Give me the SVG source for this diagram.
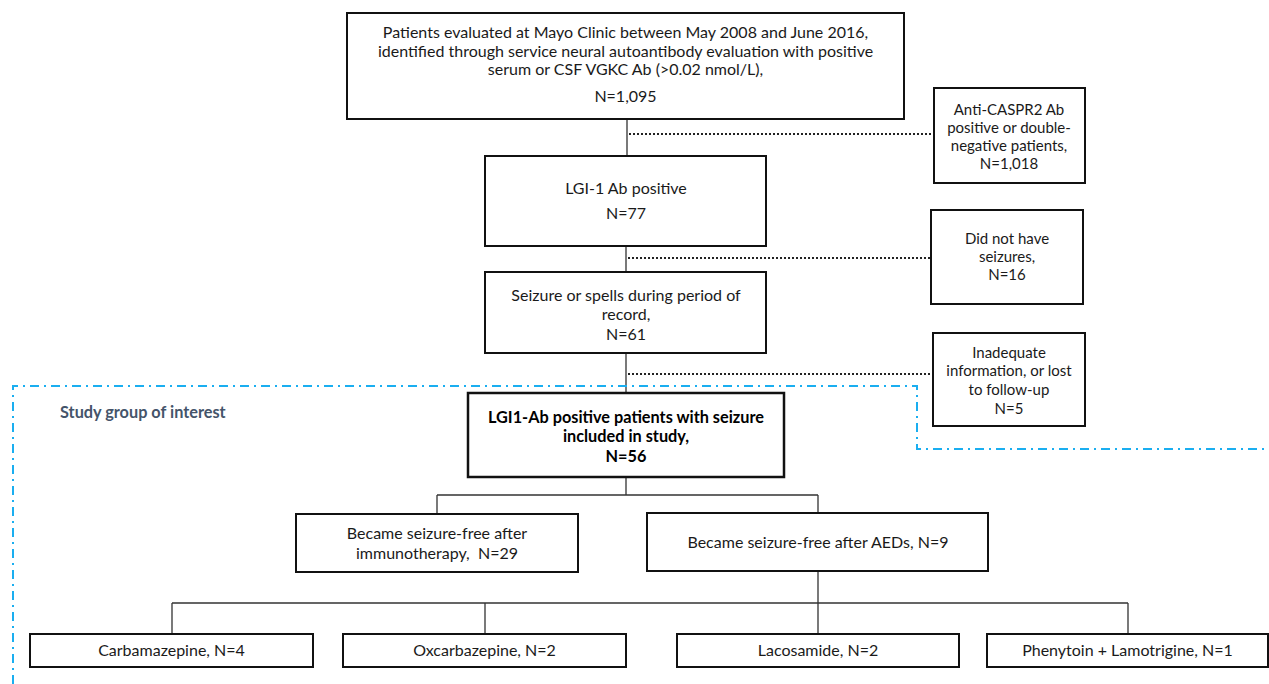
<svg xmlns="http://www.w3.org/2000/svg" width="1269" height="684" viewBox="0 0 1269 684">
<style>
.box{fill:#fff;stroke:#111;stroke-width:2}
.boxb{fill:#fff;stroke:#111;stroke-width:2.5}
.t{font-family:Lato,"Open Sans",sans-serif;font-size:16px;fill:#1a1a1a;text-anchor:middle}
.ts{font-family:Lato,"Open Sans",sans-serif;font-size:15px;fill:#1a1a1a;text-anchor:middle}
.tb{font-family:Lato,"Open Sans",sans-serif;font-size:16.3px;font-weight:bold;fill:#000;text-anchor:middle}
.ln{fill:none;stroke:#333;stroke-width:1.3}
.dot{fill:none;stroke:#222;stroke-width:2;stroke-dasharray:2 2}
.grp{fill:none;stroke:#1aaef0;stroke-width:2;stroke-dasharray:9 5 2 5}
</style>
<rect width="1269" height="684" fill="#fff"/>
<g id="connectors">
<path class="ln" d="M627,119V156M626,246V272M626,353V393M626,477V495M437,495H818M437,495V513M818,495V513M818,571V603M172,603H1128M172,603V634M485,603V634M818,603V634M1128,603V634"/>
<path class="dot" d="M629,134H934M628,258H931M628,374H933"/>
</g>
<g id="study-group">
<path class="grp" d="M13,684V386H917V449H1269"/>
<text x="60" y="418" style="font-family:Lato,'Open Sans',sans-serif;font-size:16.3px;font-weight:bold;fill:#44546a">Study group of interest</text>
</g>
<g id="n-start">
<rect class="box" x="347" y="13" width="557" height="106"/>
<text class="t" x="625.5" y="38">Patients evaluated at Mayo Clinic between May 2008 and June 2016,</text>
<text class="t" x="625.5" y="57">identified through service neural autoantibody evaluation with positive</text>
<text class="t" x="625.5" y="75">serum or CSF VGKC Ab (&gt;0.02 nmol/L),</text>
<text class="t" x="625.5" y="102">N=1,095</text>
</g>
<g id="n-excl1">
<rect class="box" x="934" y="88" width="151" height="95"/>
<text class="ts" x="1009" y="115">Anti-CASPR2 Ab</text>
<text class="ts" x="1009" y="133">positive or double-</text>
<text class="ts" x="1009" y="151">negative patients,</text>
<text class="ts" x="1009" y="169">N=1,018</text>
</g>
<g id="n-lgi1">
<rect class="box" x="485" y="156" width="281" height="90"/>
<text class="t" x="626" y="194">LGI-1 Ab positive</text>
<text class="t" x="626" y="219">N=77</text>
</g>
<g id="n-excl2">
<rect class="box" x="931" y="210" width="152" height="94"/>
<text class="ts" x="1007" y="244">Did not have</text>
<text class="ts" x="1007" y="262">seizures,</text>
<text class="ts" x="1007" y="280">N=16</text>
</g>
<g id="n-seizure">
<rect class="box" x="485" y="272" width="281" height="81"/>
<text class="t" x="626" y="301">Seizure or spells during period of</text>
<text class="t" x="626" y="320">record,</text>
<text class="t" x="626" y="340">N=61</text>
</g>
<g id="n-excl3">
<rect class="box" x="933" y="333" width="152" height="93"/>
<text class="ts" x="1009" y="358">Inadequate</text>
<text class="ts" x="1009" y="376">information, or lost</text>
<text class="ts" x="1009" y="395">to follow-up</text>
<text class="ts" x="1009" y="414">N=5</text>
</g>
<g id="n-included">
<rect class="boxb" x="468" y="393" width="316" height="84"/>
<text class="tb" x="626" y="423">LGI1-Ab positive patients with seizure</text>
<text class="tb" x="626" y="442">included in study,</text>
<text class="tb" x="626" y="462">N=56</text>
</g>
<g id="n-immuno">
<rect class="box" x="296" y="514" width="282" height="58"/>
<text class="t" x="437" y="539">Became seizure-free after</text>
<text class="t" x="437" y="559">immunotherapy,&#160; N=29</text>
</g>
<g id="n-aeds">
<rect class="box" x="647" y="513" width="341" height="58"/>
<text class="t" x="818" y="548">Became seizure-free after AEDs, N=9</text>
</g>
<g id="n-carba">
<rect class="box" x="30" y="634" width="283" height="33"/>
<text class="t" x="171.5" y="656">Carbamazepine, N=4</text>
</g>
<g id="n-oxcarba">
<rect class="box" x="343" y="634" width="283" height="33"/>
<text class="t" x="484.5" y="656">Oxcarbazepine, N=2</text>
</g>
<g id="n-lacos">
<rect class="box" x="677" y="634" width="282" height="33"/>
<text class="t" x="818" y="656">Lacosamide, N=2</text>
</g>
<g id="n-pheny">
<rect class="box" x="987" y="634" width="281" height="33"/>
<text class="t" x="1127.5" y="656">Phenytoin + Lamotrigine, N=1</text>
</g>
</svg>
